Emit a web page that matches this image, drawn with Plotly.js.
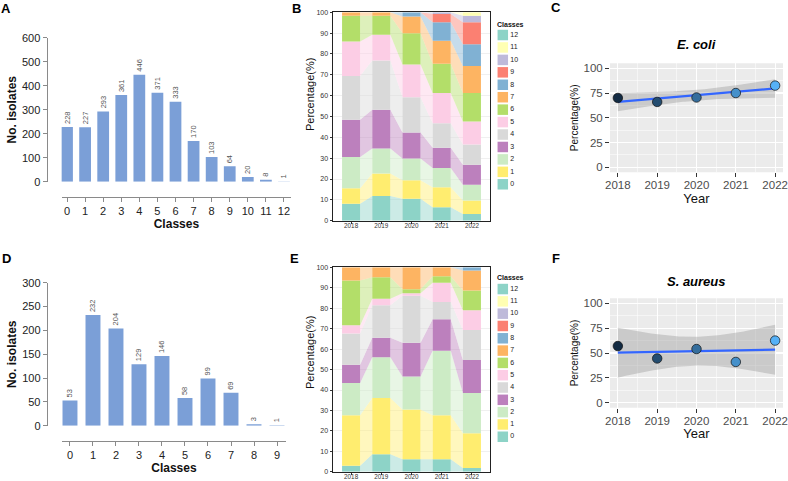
<!DOCTYPE html>
<html><head><meta charset="utf-8">
<script src="https://cdn.plot.ly/plotly-3.0.1.min.js"></script>
<style>html,body{margin:0;padding:0;background:#fff}#chart{width:788px;height:481px}</style>
</head><body><div id="chart"></div>
<script>
// ---------- data ----------
const classesA = [0,1,2,3,4,5,6,7,8,9,10,11,12];
const isolatesA = [228,227,293,361,446,371,333,170,103,64,20,8,1];
const classesD = [0,1,2,3,4,5,6,7,8,9];
const isolatesD = [53,232,204,129,146,58,99,69,3,1];
const years = [2018,2019,2020,2021,2022];
const yearLabels = ['2018','2019','2020','2021','2022'];
const legendClasses = [0,1,2,3,4,5,6,7,8,9,10,11,12];

// E. coli: percentage of isolates per resistance class (0..12) in each year
const ecoli2018 = [8.1, 7.5, 15.0, 17.8, 21.0, 16.6, 12.4, 1.6];
const ecoli2019 = [11.8, 10.8, 12.1, 18.5, 23.7, 12.3, 9.2, 1.6];
const ecoli2020 = [10.5, 8.9, 10.4, 12.5, 16.9, 15.8, 15.0, 8.0, 2.0];
const ecoli2021 = [6.5, 9.6, 9.2, 9.7, 11.8, 14.5, 14.0, 11.0, 8.9, 4.0, 0.8];
const ecoli2022 = [3.2, 6.5, 7.6, 9.6, 9.7, 11.0, 13.7, 12.9, 10.5, 10.5, 3.2, 1.6];

// S. aureus
const saureus2018 = [2.9, 24.8, 15.7, 8.9, 15.3, 4.1, 21.8, 6.5];
const saureus2019 = [8.6, 27.5, 19.9, 9.5, 15.9, 3.2, 10.5, 4.9];
const saureus2020 = [6.1, 24.4, 16.1, 16.5, 23.0, 1.2, 2.0, 10.7];
const saureus2021 = [6.1, 21.6, 31.5, 15.4, 8.4, 9.4, 3.2, 4.4];
const saureus2022 = [1.8, 17.0, 19.7, 16.2, 14.6, 9.7, 9.7, 9.7, 1.6];

// trend percentages
const ecoliPct = [70, 66, 70.5, 75, 82.5];
const saureusPct = [57, 44.5, 54, 41, 62.5];

// ---------- styles ----------
const FONT = 'Liberation Sans, Arial, Helvetica, sans-serif';
const classColors = ['#8DD3C7','#FFED6F','#CCEBC5','#BC80BD','#D9D9D9','#FCCDE5','#B3DE69','#FDB462','#80B1D3','#FB8072','#BEBADA','#FFFFB3','#8DD3C7'];
const barBlue = '#7b9fd7';
function hexA(h, a){const r=parseInt(h.slice(1,3),16),g=parseInt(h.slice(3,5),16),b=parseInt(h.slice(5,7),16);return `rgba(${r},${g},${b},${a})`;}

const traces = [];

// ---------- A and D: bar charts ----------
function countBars(xs, ys, xa, ya){
  return {type:'bar', x:xs, y:ys, xaxis:xa, yaxis:ya, width:0.65,
    marker:{color:barBlue, line:{width:0}},
    text: ys.map(String), textposition:'outside', textangle:-90, constraintext:'none',
    textfont:{size:7.5, color:'#555', family:FONT}, cliponaxis:false, hoverinfo:'x+y'};
}
traces.push(countBars(classesA, isolatesA, 'x', 'y'));
traces.push(countBars(classesD, isolatesD, 'x2', 'y2'));

// ---------- B and E: alluvial stacked bars ----------
function alluvial(rows, xa, ya){
  const nC = legendClasses.length;
  const vals = rows.map(r => legendClasses.map(c => r[c] || 0));
  const bottoms = vals.map(r => { let acc = 0; return r.map(v => { const b = acc; acc += v; return b; }); });
  const tops = vals.map((r,i) => r.map((v,c) => bottoms[i][c] + v));
  const half = 0.3;
  const out = [];
  for (let c = 0; c < nC; c++){
    const fx = [], fy = [];
    for (let i = 0; i < vals.length - 1; i++){
      if (vals[i][c] === 0 && vals[i+1][c] === 0) continue;
      fx.push(i+half, i+half, i+1-half, i+1-half, i+half, null);
      fy.push(bottoms[i][c], tops[i][c], tops[i+1][c], bottoms[i+1][c], bottoms[i][c], null);
    }
    if (fx.length) out.push({type:'scatter', mode:'lines', x:fx, y:fy, fill:'toself',
      fillcolor:hexA(classColors[c],0.45), line:{width:0, color:'rgba(0,0,0,0)'},
      xaxis:xa, yaxis:ya, hoverinfo:'skip'});
  }
  for (let c = 0; c < nC; c++){
    out.push({type:'bar', x:vals.map((_,i)=>i), y:vals.map(r=>r[c]), base:bottoms.map(b=>b[c]),
      width:0.6, marker:{color:classColors[c], line:{width:0}}, xaxis:xa, yaxis:ya,
      name:String(legendClasses[c]), hoverinfo:'y+name'});
  }
  return out;
}
traces.push(...alluvial([ecoli2018, ecoli2019, ecoli2020, ecoli2021, ecoli2022], 'x3', 'y3'));
traces.push(...alluvial([saureus2018, saureus2019, saureus2020, saureus2021, saureus2022], 'x4', 'y4'));

// manual legends (Classes)
const legendX = 7.8;
function legendTrace(xa, ya){
  return {type:'scatter', mode:'markers+text', x:legendClasses.map(()=>legendX), y:legendClasses,
    marker:{symbol:'square', size:10.5, color:classColors, line:{width:0}},
    text:legendClasses.map(String), textposition:'middle right',
    textfont:{size:7, color:'#222', family:FONT}, xaxis:xa, yaxis:ya, hoverinfo:'skip', cliponaxis:false};
}
traces.push(legendTrace('x7','y7'));
traces.push(legendTrace('x8','y8'));

// ---------- C and F: trend with linear fit ----------
function fitTraces(xs, ys, xa, ya){
  const n = xs.length;
  const mx = xs.reduce((a,b)=>a+b,0)/n, my = ys.reduce((a,b)=>a+b,0)/n;
  let sxx = 0, sxy = 0;
  xs.forEach((x,i)=>{ sxx += (x-mx)*(x-mx); sxy += (x-mx)*(ys[i]-my); });
  const slope = sxy/sxx, icpt = my - slope*mx;
  let sse = 0; xs.forEach((x,i)=>{ const r = ys[i]-(icpt+slope*x); sse += r*r; });
  const s = Math.sqrt(sse/(n-2));
  const tCrit = 3.182446; // t(0.975, df = 3)
  const gx = [], fit = [], lo = [], hi = [];
  const xmin = Math.min(...xs), xmax = Math.max(...xs);
  for (let k = 0; k <= 80; k++){
    const x = xmin + (xmax-xmin)*k/80;
    const f = icpt + slope*x;
    const se = s*Math.sqrt(1/n + (x-mx)*(x-mx)/sxx);
    gx.push(x); fit.push(f); lo.push(f - tCrit*se); hi.push(f + tCrit*se);
  }
  return [
    {type:'scatter', mode:'lines', x:gx.concat(gx.slice().reverse()), y:hi.concat(lo.slice().reverse()),
      fill:'toself', fillcolor:'rgba(153,153,153,0.4)', line:{width:0,color:'rgba(0,0,0,0)'}, xaxis:xa, yaxis:ya, hoverinfo:'skip'},
    {type:'scatter', mode:'lines', x:gx, y:fit, line:{color:'#3366FF', width:2.2}, xaxis:xa, yaxis:ya, hoverinfo:'skip'},
    {type:'scatter', mode:'markers', x:xs, y:ys, xaxis:xa, yaxis:ya, cliponaxis:false,
      marker:{size:9.5, color:xs, cmin:Math.min(...xs), cmax:Math.max(...xs),
        colorscale:[[0,'#132B43'],[1,'#56B1F7']], line:{color:'#111', width:0.7}}}
  ];
}
traces.push(...fitTraces(years, ecoliPct, 'x5', 'y5'));
traces.push(...fitTraces(years, saureusPct, 'x6', 'y6'));

// ---------- layout ----------
const W = 788, H = 481;
const px = v => v/W, py = v => 1 - v/H;

function countX(domain, pos, range, tv){
  return {domain, anchor:'free', position:pos, range, tickvals:tv, showline:true, linecolor:'#8a8a8a', linewidth:1,
    ticks:'outside', ticklen:4, tickcolor:'#8a8a8a', tickfont:{size:11, color:'#222'}, showgrid:false, zeroline:false,
    title:{text:'<b>Classes</b>', font:{size:12, color:'#111'}, standoff:2}};
}
function countY(domain, pos, range, dtick){
  return {domain, anchor:'free', position:pos, range, dtick, showline:true, linecolor:'#8a8a8a', linewidth:1,
    ticks:'outside', ticklen:4, tickcolor:'#8a8a8a', tickfont:{size:11, color:'#222'}, showgrid:false, zeroline:false,
    title:{text:'<b>No. isolates</b>', font:{size:12, color:'#111'}, standoff:1}};
}
function alluX(domain, anchor){
  return {domain, anchor, range:[-0.6,4.6], tickvals:[0,1,2,3,4], ticktext:yearLabels, showline:true, mirror:true,
    linecolor:'#222', linewidth:1, ticks:'outside', ticklen:2, tickcolor:'#333', tickfont:{size:6.3, color:'#333'},
    ticklabelstandoff:-3, showgrid:false, zeroline:false};
}
function alluY(domain, anchor){
  return {domain, anchor, range:[0,100], dtick:10, showline:true, mirror:true, linecolor:'#222', linewidth:1,
    ticks:'outside', ticklen:2.5, tickcolor:'#333', tickfont:{size:7, color:'#333'}, showgrid:true, gridcolor:'#e6e6e6',
    gridwidth:0.6, zeroline:false};
}
function trendX(domain, anchor){
  return {domain, anchor, range:[2017.8,2022.2], tickvals:years, ticks:'outside', ticklen:4, tickcolor:'#333',
    tickfont:{size:11.5, color:'#4d4d4d'}, ticklabelstandoff:-2, showgrid:true, gridcolor:'#ffffff', gridwidth:1.1,
    minor:{dtick:0.5, tick0:2018, showgrid:true, gridcolor:'#ffffff', gridwidth:0.5},
    showline:false, zeroline:false, title:{text:'Year', font:{size:13, color:'#111'}, standoff:0}};
}
function trendY(domain, anchor){
  return {domain, anchor, range:[-5,105], tickvals:[0,25,50,75,100], ticks:'outside', ticklen:4, tickcolor:'#333',
    tickfont:{size:11.5, color:'#4d4d4d'}, showgrid:true, gridcolor:'#ffffff', gridwidth:1.1,
    minor:{dtick:12.5, tick0:0, showgrid:true, gridcolor:'#ffffff', gridwidth:0.5},
    showline:false, zeroline:false, title:{text:'Percentage(%)', font:{size:10, color:'#111'}, standoff:3}};
}
const hidden = (domain, anchor, range) => ({domain, anchor, range, visible:false, fixedrange:true});

const layout = {
  width:W, height:H, margin:{l:0,r:0,t:0,b:0}, paper_bgcolor:'#ffffff', plot_bgcolor:'rgba(0,0,0,0)',
  showlegend:false, barmode:'overlay', font:{family:FONT, color:'#111'},
  xaxis: countX([px(61.6),px(291.2)], py(197), [-0.3,12.4], classesA),
  yaxis: countY([py(181.7),py(37.7)], px(46.5), [0,600], 100),
  xaxis2: countX([px(61.7),px(286.2)], py(441), [-0.36,9.4], classesD),
  yaxis2: countY([py(425.7),py(282.7)], px(46.7), [0,300], 50),
  xaxis3: alluX([px(333),px(490)], 'y3'),
  yaxis3: alluY([py(220.7),py(12.3)], 'x3'),
  xaxis4: alluX([px(333),px(490)], 'y4'),
  yaxis4: alluY([py(471.8),py(267.3)], 'x4'),
  xaxis5: trendX([px(610),px(783)], 'y5'),
  yaxis5: trendY([py(172.3),py(63.3)], 'x5'),
  xaxis6: trendX([px(610),px(783)], 'y6'),
  yaxis6: trendY([py(407.7),py(298.3)], 'x6'),
  xaxis7: hidden([px(495),px(530)], 'y7', [0,35]),
  yaxis7: hidden([py(190.5),py(28.8)], 'x7', [-0.5,12.5]),
  xaxis8: hidden([px(495),px(530)], 'y8', [0,35]),
  yaxis8: hidden([py(442.9),py(282.9)], 'x8', [-0.5,12.5]),
  shapes: [
    {type:'rect', xref:'x5 domain', yref:'y5 domain', x0:0, x1:1, y0:0, y1:1, fillcolor:'#EBEBEB', line:{width:0}, layer:'below'},
    {type:'rect', xref:'x6 domain', yref:'y6 domain', x0:0, x1:1, y0:0, y1:1, fillcolor:'#EBEBEB', line:{width:0}, layer:'below'}
  ],
  annotations: [
    ['A',6,8],['B',296,8],['C',556,7],['D',6,258],['E',294,258],['F',556,258]
  ].map(([t,x,y]) => ({text:'<b>'+t+'</b>', x:px(x), y:py(y), xref:'paper', yref:'paper', showarrow:false,
      xanchor:'center', yanchor:'middle', font:{size:13, color:'#000'}}))
  .concat([
    {text:'<b><i>E. coli</i></b>', x:px(696.5), y:py(45), xref:'paper', yref:'paper', showarrow:false, xanchor:'center', yanchor:'middle', font:{size:13, color:'#000'}},
    {text:'<b><i>S. aureus</i></b>', x:px(696.5), y:py(281.7), xref:'paper', yref:'paper', showarrow:false, xanchor:'center', yanchor:'middle', font:{size:13, color:'#000'}},
    {text:'<b>Classes</b>', x:px(495), y:py(24), xref:'paper', yref:'paper', showarrow:false, xanchor:'left', yanchor:'middle', font:{size:7, color:'#111'}},
    {text:'<b>Classes</b>', x:px(495), y:py(277.7), xref:'paper', yref:'paper', showarrow:false, xanchor:'left', yanchor:'middle', font:{size:7, color:'#111'}},
    {text:'Percentage(%)', x:px(310), y:py(95), xref:'paper', yref:'paper', showarrow:false, textangle:-90, xanchor:'center', yanchor:'middle', font:{size:11, color:'#111'}},
    {text:'Percentage(%)', x:px(310), y:py(353), xref:'paper', yref:'paper', showarrow:false, textangle:-90, xanchor:'center', yanchor:'middle', font:{size:11, color:'#111'}}
  ])
};

Plotly.newPlot('chart', traces, layout, {staticPlot:true, displayModeBar:false});
</script>
</body></html>
